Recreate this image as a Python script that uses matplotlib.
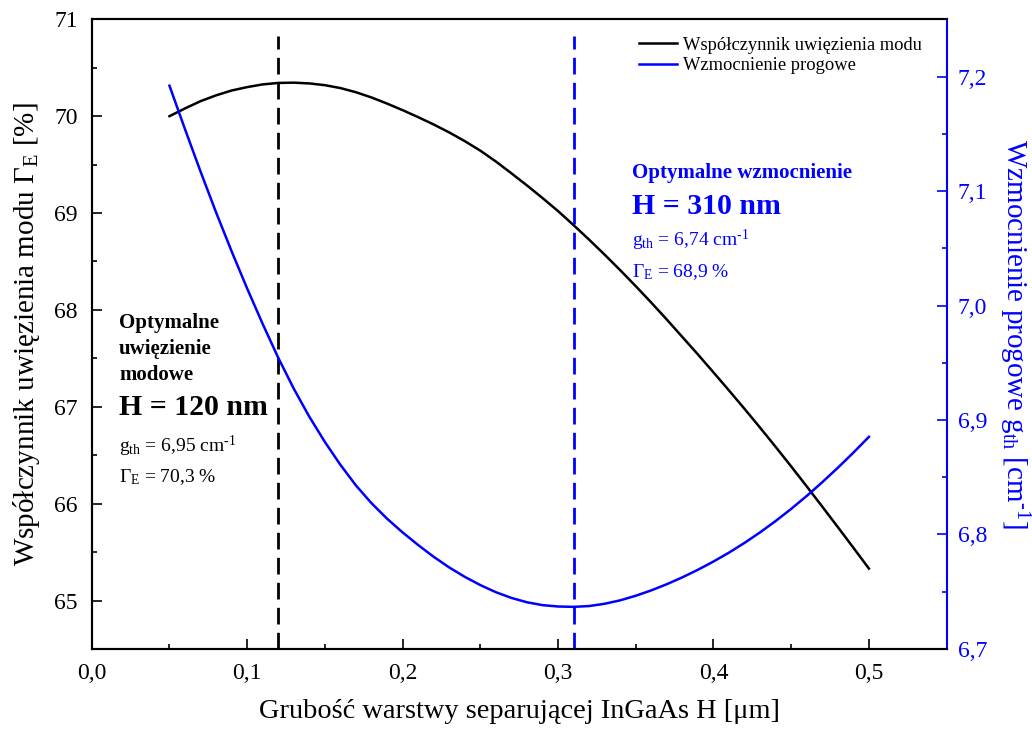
import matplotlib
matplotlib.use("Agg")
import matplotlib.pyplot as plt
from matplotlib.ticker import FuncFormatter, MultipleLocator

plt.rcParams['font.family'] = ['Liberation Serif', 'DejaVu Serif']
plt.rcParams['mathtext.fontset'] = 'custom'
plt.rcParams['mathtext.rm'] = 'Liberation Serif'
plt.rcParams['mathtext.it'] = 'Liberation Serif:italic'
plt.rcParams['mathtext.bf'] = 'Liberation Serif:bold'

# Data
H = [0.05, 0.06, 0.07, 0.08, 0.09, 0.10, 0.11, 0.12, 0.13, 0.14, 0.15, 0.16,
     0.17, 0.18, 0.19, 0.20, 0.21, 0.22, 0.23, 0.24, 0.25, 0.26, 0.27, 0.28,
     0.29, 0.30, 0.31, 0.32, 0.33, 0.34, 0.35, 0.36, 0.37, 0.38, 0.39, 0.40,
     0.41, 0.42, 0.43, 0.44, 0.45, 0.46, 0.47, 0.48, 0.49, 0.50]
gamma = [70.000, 70.080, 70.155, 70.215, 70.265, 70.300, 70.328, 70.343, 70.346, 70.338,
         70.320, 70.290, 70.247, 70.193, 70.130, 70.062, 69.990, 69.914, 69.832, 69.742,
         69.644, 69.532, 69.410, 69.285, 69.155, 69.020, 68.875, 68.725, 68.570, 68.410,
         68.245, 68.075, 67.900, 67.720, 67.540, 67.355, 67.168, 66.978, 66.784, 66.586,
         66.384, 66.178, 65.969, 65.758, 65.545, 65.330]
gth = [7.1920, 7.1540, 7.1170, 7.0813, 7.0473, 7.0148, 6.9838, 6.9543, 6.9273, 6.9028,
       6.8808, 6.8608, 6.8428, 6.8273, 6.8138, 6.8018, 6.7908, 6.7805, 6.7712, 6.7630,
       6.7558, 6.7496, 6.7446, 6.7408, 6.7383, 6.7371, 6.7368, 6.7375, 6.7395, 6.7425,
       6.7465, 6.7512, 6.7566, 6.7626, 6.7692, 6.7764, 6.7842, 6.7927, 6.8019, 6.8118,
       6.8224, 6.8337, 6.8457, 6.8583, 6.8715, 6.8853]
opt_conf = 0.12
opt_gain = 0.31

BLUE = '#0000ff'

fig = plt.figure(figsize=(10.32, 7.31), dpi=100)
ax = fig.add_axes([0.0889, 0.1122, 0.8284, 0.8614])
ax2 = ax.twinx()

l1, = ax.plot(H, gamma, color='black', lw=1.8, label='Współczynnik uwięzienia modu')
l2, = ax2.plot(H, gth, color=BLUE, lw=1.8, label='Wzmocnienie progowe')

ax.axvline(opt_conf, ymin=0.0, ymax=0.973, color='black', lw=2, ls=(0, (6, 3)))
ax2.axvline(opt_gain, ymin=0.0, ymax=0.973, color=BLUE, lw=2, ls=(0, (6, 3)))

ax.set_xlim(0.0, 0.55)
ax.set_ylim(64.5, 71.0)
ax2.set_ylim(6.7, 7.25)

comma1 = FuncFormatter(lambda v, p: f"{v:.1f}".replace('.', ','))
ax.xaxis.set_major_locator(MultipleLocator(0.1))
ax.xaxis.set_minor_locator(MultipleLocator(0.05))
ax.xaxis.set_major_formatter(comma1)
ax.yaxis.set_major_locator(MultipleLocator(1))
ax.yaxis.set_minor_locator(MultipleLocator(0.5))
ax.yaxis.set_major_formatter(FuncFormatter(lambda v, p: f"{v:.0f}"))
ax2.yaxis.set_major_locator(MultipleLocator(0.1))
ax2.yaxis.set_minor_locator(MultipleLocator(0.05))
ax2.yaxis.set_major_formatter(comma1)

ax.tick_params(which='both', direction='in', width=1.2, labelsize=17, top=False, right=False)
ax.tick_params(which='major', length=7)
ax.tick_params(which='minor', length=3.5)
ax.tick_params(axis='x', pad=10)
ax.tick_params(axis='y', pad=10)
ax2.tick_params(which='both', direction='in', width=1.2, labelsize=17, colors=BLUE, pad=8)
ax2.tick_params(which='major', length=7)
ax2.tick_params(which='minor', length=3.5)

for s in ['left', 'bottom', 'top']:
    ax.spines[s].set_linewidth(1.5)
    ax2.spines[s].set_linewidth(1.5)
    ax2.spines[s].set_color('black')
ax.spines['right'].set_visible(False)
ax2.spines['right'].set_color(BLUE)
ax2.spines['right'].set_linewidth(1.5)

ax.set_xlabel('Grubość warstwy separującej InGaAs H [μm]', fontsize=20.4, labelpad=11)
ax.set_ylabel(r'Współczynnik uwięzienia modu $\mathregular{Γ_E}$ [%]', fontsize=21, labelpad=9)
ax2.set_ylabel(r'Wzmocnienie progowe $\mathregular{g_{th}}$ [cm$^{\mathregular{‐1}}$]',
               fontsize=21, color=BLUE, rotation=-90, labelpad=32)

leg = ax.legend(handles=[l1, l2], loc='upper right', bbox_to_anchor=(0.984, 0.99),
                frameon=False, fontsize=13.3, handlelength=2.1, handletextpad=0.3,
                labelspacing=0.2, borderaxespad=0.2)

# Annotations (axes fraction coordinates)
def fx(px):
    return (px - 91.7) / (946.7 - 91.7)

def fy(py):
    return (649 - py) / (649 - 19.3)

ax.text(fx(119), fy(323), 'Optymalne', transform=ax.transAxes, fontsize=15,
        fontweight='bold', va='center', ha='left')
ax.text(fx(119), fy(349), 'uwięzienie', transform=ax.transAxes, fontsize=15,
        fontweight='bold', va='center', ha='left')
ax.text(fx(119), fy(375), 'modowe', transform=ax.transAxes, fontsize=15,
        fontweight='bold', va='center', ha='left')
ax.text(fx(119), fy(408), 'H = 120 nm', transform=ax.transAxes, fontsize=21.5,
        fontweight='bold', va='center', ha='left')
ax.text(fx(119), fy(446), r'$\mathregular{g_{th}}$ = 6,95 cm$^{\mathregular{‐1}}$', transform=ax.transAxes,
        fontsize=14, va='center', ha='left')
ax.text(fx(119), fy(477), r'$\mathregular{Γ_E}$ = 70,3 %', transform=ax.transAxes,
        fontsize=14, va='center', ha='left')

ax.text(fx(632), fy(173), 'Optymalne wzmocnienie', transform=ax.transAxes, fontsize=15,
        fontweight='bold', va='center', ha='left', color=BLUE)
ax.text(fx(632), fy(207), 'H = 310 nm', transform=ax.transAxes, fontsize=21.5,
        fontweight='bold', va='center', ha='left', color=BLUE)
ax.text(fx(632), fy(240), r'$\mathregular{g_{th}}$ = 6,74 cm$^{\mathregular{‐1}}$', transform=ax.transAxes,
        fontsize=14, va='center', ha='left', color=BLUE)
ax.text(fx(632), fy(272), r'$\mathregular{Γ_E}$ = 68,9 %', transform=ax.transAxes,
        fontsize=14, va='center', ha='left', color=BLUE)

fig.savefig('out.png', dpi=100)
